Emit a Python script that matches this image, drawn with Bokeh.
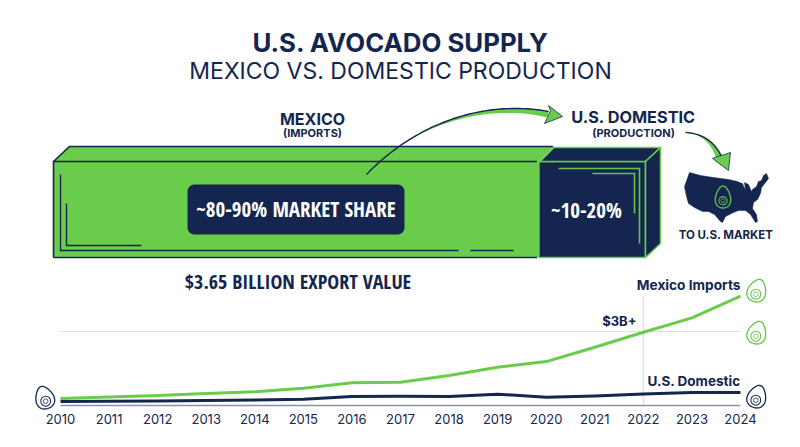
import numpy as np
from bokeh.core.properties import value
from bokeh.embed import file_html
from bokeh.resources import INLINE
from bokeh.plotting import figure
from bokeh.models import Range1d, LinearAxis, FixedTicker, NumeralTickFormatter

# ---- data ----
years = [2010, 2011, 2012, 2013, 2014, 2015, 2016, 2017, 2018, 2019, 2020, 2021, 2022, 2023, 2024]
mexico_imports = [0.28, 0.34, 0.41, 0.49, 0.56, 0.70, 0.92, 0.94, 1.22, 1.55, 1.78, 2.36, 2.97, 3.55, 4.43]
us_domestic = [0.16, 0.17, 0.18, 0.20, 0.22, 0.25, 0.36, 0.37, 0.36, 0.46, 0.33, 0.39, 0.47, 0.53, 0.53]
reference_value = 3.0
reference_year = 2022
mexico_share = 82
us_share = 18
title_main = "U.S. AVOCADO SUPPLY"
title_sub = "MEXICO VS. DOMESTIC PRODUCTION"

NAVY = "#14264f"
GREEN = "#69cc4a"
LINEG = "#62c544"
GRID = "#dcdee4"
AXIS = "#8d92a8"
SANS = "Inter"
NARROW = "Open Sans Condensed"

W, H = 800, 447
FRAME_BOTTOM = 410
AXIS_Y = 405
PX_PER_YEAR = (740 - 60) / (years[-1] - years[0])
PX_PER_UNIT = 24.67
PX_PER_SHARE = (645 - 53) / 100

p = figure(width=W, height=H, output_backend="svg", toolbar_location=None,
           x_axis_type=None, y_axis_type=None,
           x_range=Range1d(0, W), y_range=Range1d(FRAME_BOTTOM, 0),
           min_border=0, min_border_bottom=H - FRAME_BOTTOM, outline_line_color=None,
           background_fill_color="white", border_fill_color="white")
p.grid.visible = False
p.extra_x_ranges = {
    "yr": Range1d(years[0] - 60 / PX_PER_YEAR, years[-1] + 60 / PX_PER_YEAR),
    "share": Range1d(-53 / PX_PER_SHARE, 100 + 155 / PX_PER_SHARE),
}
p.extra_y_ranges = {"val": Range1d((AXIS_Y - FRAME_BOTTOM) / PX_PER_UNIT, AXIS_Y / PX_PER_UNIT)}


def text(x, y, s, size, color=NAVY, font=SANS, style="bold", align="center"):
    p.text([x], [y], text=[s], text_font=value(font), text_font_size=f"{size}px", text_font_style=style,
           text_color=color, text_align=align, text_baseline="middle")


def poly(pts, fill, line=None, lw=1.0):
    xs, ys = zip(*pts)
    p.patch(list(xs), list(ys), fill_color=fill, line_color=line, line_width=lw, line_join="round")


def path(pts, color, lw=1.5):
    xs, ys = zip(*pts)
    p.line(list(xs), list(ys), line_color=color, line_width=lw, line_join="miter", line_cap="butt")


def avocado(cx, cy, w, h, tilt, color, lw=1.3, fill=None):
    t = np.linspace(0, 2 * np.pi, 60)
    x = 0.5 * w * np.sin(t) * (1 - 0.28 * np.cos(t))
    y = -0.5 * h * np.cos(t)
    a = np.radians(tilt)
    X = cx + x * np.cos(a) - y * np.sin(a)
    Y = cy + x * np.sin(a) + y * np.cos(a)
    p.patch(X.tolist(), Y.tolist(), fill_color=fill, fill_alpha=0 if fill is None else 1,
            line_color=color, line_width=lw)
    ox = cx - 0.17 * h * np.sin(a)
    oy = cy + 0.17 * h * np.cos(a)
    p.scatter([ox], [oy], size=w * 0.55, marker="circle", fill_alpha=0, line_color=color, line_width=lw * 0.8)
    p.scatter([ox], [oy], size=w * 0.26, marker="circle", fill_alpha=0, line_color=color, line_width=lw * 0.6)


def rounded(x0, y0, x1, y1, r):
    pts = []
    for cx, cy, a0 in ((x1 - r, y0 + r, -90), (x1 - r, y1 - r, 0), (x0 + r, y1 - r, 90), (x0 + r, y0 + r, 180)):
        for a in np.radians(np.linspace(a0, a0 + 90, 7)):
            pts.append((cx + r * np.cos(a), cy + r * np.sin(a)))
    return pts


def bez(P, n=50):
    t = np.linspace(0, 1, n)[:, None]
    P = np.array(P, float)
    return (1 - t) ** 3 * P[0] + 3 * (1 - t) ** 2 * t * P[1] + 3 * (1 - t) * t ** 2 * P[2] + t ** 3 * P[3]


def arrow(P, head, tstart, width, lw=1.4):
    c = bez(P)
    d = np.gradient(c, axis=0)
    nrm = np.column_stack([-d[:, 1], d[:, 0]]) / np.linalg.norm(d, axis=1)[:, None]
    if nrm[-1, 1] < 0:
        nrm = -nrm
    u = np.linspace(0, 1, len(c))
    k = np.clip((u - tstart) / (1 - tstart), 0, 1)
    lower = c + nrm * (k ** 1.0 * width)[:, None]
    poly(list(map(tuple, c)) + list(map(tuple, lower[::-1])), GREEN)
    p.line(c[:, 0].tolist(), c[:, 1].tolist(), line_color=NAVY, line_width=lw)
    poly(head, GREEN, NAVY, 0.8)


# ---- titles ----
text(400, 42, title_main, 25.8)
text(400, 70, title_sub, 23, style="normal")
text(312, 118, "MEXICO", 16)
text(312, 132, "(IMPORTS)", 11)
text(633, 116, "U.S. DOMESTIC", 16.3)
text(633, 132, "(PRODUCTION)", 11)

# ---- 3D share bar ----
TOP, BOT, BACK, DX = 161, 257, 146, 15
split = 53 + mexico_share * PX_PER_SHARE
end = split + us_share * PX_PER_SHARE
poly([(53, TOP), (53 + DX, BACK), (split + DX, BACK), (split, TOP)], GREEN)
p.quad(left=[0], right=[mexico_share], top=[TOP], bottom=[BOT], x_range_name="share",
       fill_color=GREEN, line_color=None)
p.quad(left=[mexico_share], right=[mexico_share + us_share], top=[TOP], bottom=[BOT], x_range_name="share",
       fill_color=NAVY, line_color=GREEN, line_width=1.5)
poly([(split + 1, TOP), (split + DX, BACK + 1), (end + DX, BACK + 1), (end, TOP)], NAVY, GREEN, 1.5)
poly([(end, TOP), (end + DX, BACK + 1), (end + DX, 243), (end, BOT)], NAVY, GREEN, 1.5)
path([(53, 257), (53, 161), (split - 2, 161)], NAVY, 1.6)
path([(53, 161), (69, 146), (split + 14, 146)], NAVY, 1.6)
path([(53, 257), (split - 2, 257)], NAVY, 1.6)
path([(60, 174), (60, 250), (458, 250)], NAVY, 1.4)
path([(470, 250), (513, 250)], NAVY, 1.4)
path([(66, 203), (66, 245), (141, 245)], NAVY, 1.4)
path([(558, 168), (639, 168), (639, 243)], LINEG, 1.6)
path([(592, 173), (634, 173), (634, 213)], LINEG, 1.6)

poly(rounded(187, 184, 404, 234, 7), NAVY)
text(295.5, 208, "~80-90% MARKET SHARE", 21, color="white", font=NARROW)
text(586, 209, "~10-20%", 21, color="white", font=NARROW)
text(297.5, 281, "$3.65 BILLION EXPORT VALUE", 20, font=NARROW)

# ---- arrows ----
arrow([(366, 174), (420, 118), (490, 100), (548, 111)],
      [(562, 116), (548, 105), (550, 110), (547, 117), (544, 123)], 0.2, 6)
arrow([(685, 132), (703, 133), (715, 142), (722, 158)],
      [(728, 170), (712, 158), (717, 156), (724, 154), (730, 152)], 0.15, 6)

# ---- US map ----
us_x = [684, 689, 700, 713, 728, 737, 739, 742, 745, 744, 748, 751, 752, 756, 758, 761, 763, 766,
        768, 765, 761, 760, 757, 753, 752, 756, 757, 755, 750, 745, 738, 733, 725, 722, 720, 714, 708, 702, 694, 688, 686]
us_y = [186, 172, 175, 177, 179, 181, 182, 183, 190, 182, 184, 191, 189, 186, 181, 180, 175, 173,
        178, 182, 187, 193, 199, 202, 208, 214, 221, 222, 214, 210, 210, 212, 216, 222, 221, 214, 211, 211, 207, 203, 196]
p.patch(us_x, us_y, fill_color=NAVY, line_color=NAVY, line_width=0.5)
avocado(722.5, 196.5, 15, 22, 0, LINEG, 1.3)
text(725.5, 234, "TO U.S. MARKET", 11.5)

# ---- line chart ----
p.line([years[0], years[-1]], [reference_value, reference_value], x_range_name="yr", y_range_name="val",
       line_color=GRID, line_width=1.2)
p.line([reference_year, reference_year], [0, max(mexico_imports)], x_range_name="yr", y_range_name="val",
       line_color=GRID, line_width=1.2)
p.line([years[0], years[-1]], [0, 0], x_range_name="yr", y_range_name="val", line_color=AXIS, line_width=1.6)
p.line(years, us_domestic, x_range_name="yr", y_range_name="val", line_color=NAVY, line_width=3, line_join="round")
p.line(years, mexico_imports, x_range_name="yr", y_range_name="val", line_color=GREEN, line_width=3, line_join="round")

ax = LinearAxis(x_range_name="yr", ticker=FixedTicker(ticks=years),
                formatter=NumeralTickFormatter(format="0"),
                axis_line_color=None,
                major_tick_line_color=None, minor_tick_line_color=None,
                major_tick_in=0, major_tick_out=0, minor_tick_in=0, minor_tick_out=0,
                major_label_standoff=3, major_label_text_font=SANS, major_label_text_font_size="13px",
                major_label_text_color=NAVY)
p.add_layout(ax, "below")

text(740, 284, "Mexico Imports", 13.7, align="right")
text(636, 320, "$3B+", 13, align="right")
text(740, 380, "U.S. Domestic", 13.5, align="right")
avocado(756.5, 290, 18, 23, 18, LINEG)
avocado(756.5, 332, 18, 23, 18, LINEG)
avocado(756.5, 396, 18, 23, 18, NAVY)
avocado(44, 397, 18, 23, -18, NAVY)

open("out.html", "w").write(file_html(p, INLINE))
